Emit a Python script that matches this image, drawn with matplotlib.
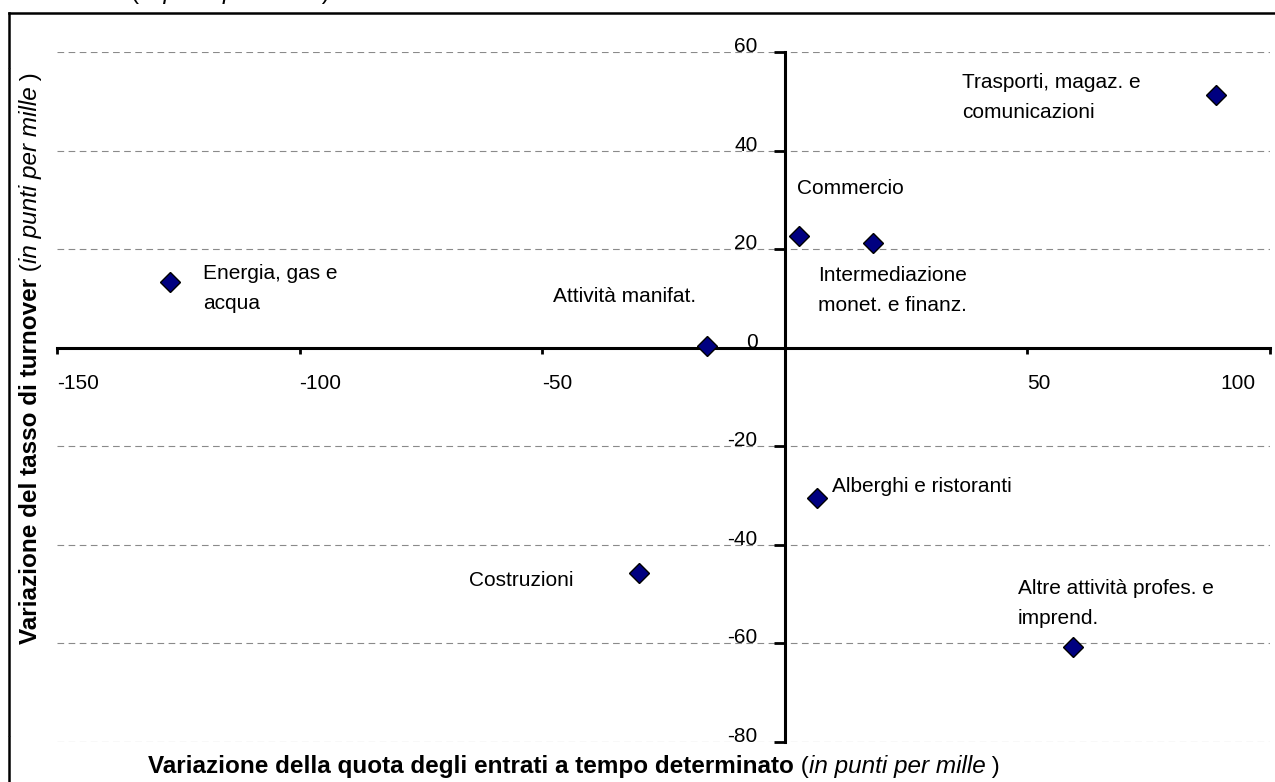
import matplotlib
matplotlib.use('Agg')
import matplotlib.pyplot as plt
from matplotlib.lines import Line2D
from matplotlib.transforms import ScaledTranslation

plt.rcParams['font.family'] = 'Liberation Sans'
plt.rcParams['axes.unicode_minus'] = False

# variazioni per settore (in punti per mille)
settori = ['Energia, gas e\nacqua', 'Attività manifat.', 'Commercio',
           'Intermediazione\nmonet. e finanz.', 'Trasporti, magaz. e\ncomunicazioni',
           'Alberghi e ristoranti', 'Costruzioni', 'Altre attività profes. e\nimprend.']
var_tempo_det = [-126.7, -16.0, 2.9, 18.2, 88.9, 6.6, -30.0, 59.4]
var_turnover = [13.4, 0.4, 22.6, 21.3, 51.2, -30.5, -45.7, -60.8]
x_ticks = [-150, -100, -50, 50, 100]
y_ticks = [60, 40, 20, 0, -20, -40, -60, -80]

# label position relative to its marker, in pixels
label_offsets = [(33, -7), (-154, 49), (-2, 48), (-55, -48), (-254, -2),
                 (15, 12), (-170, -8), (-55, 44)]

W, H = 1275, 782
FS = 15        # tick labels and point labels
FS_LAB = 17.5  # axis titles

fig = plt.figure(figsize=(W / 100, H / 100), dpi=100)
ax = fig.add_axes([57 / W, 40 / H, 1213 / W, 690 / H])

ax.set_xlim(-150, 100)
ax.set_ylim(-80, 60)
for s in ['top', 'right']:
    ax.spines[s].set_visible(False)
ax.spines['left'].set_position(('data', 0))
ax.spines['bottom'].set_position(('data', 0))
ax.spines['left'].set_linewidth(2.2)
ax.spines['bottom'].set_linewidth(2.2)

ax.set_xticks(x_ticks)
ax.set_xticklabels([str(v) for v in x_ticks])
ax.set_yticks(y_ticks)
ax.set_yticklabels([str(v) for v in y_ticks])
ax.tick_params(axis='x', direction='out', length=4, width=2, pad=15, labelsize=FS)
ax.tick_params(axis='y', direction='out', length=8, width=2, pad=11.5, labelsize=FS)

for lab in ax.get_xticklabels():
    lab.set_ha('left')
last = ax.get_xticklabels()[-1]
last.set_ha('right')
last.set_transform(last.get_transform() + ScaledTranslation(-0.14, 0, fig.dpi_scale_trans))
for lab in ax.get_yticklabels():
    lab.set_va('baseline')

ax.grid(axis='y', linestyle=(0, (6, 4)), color='#8a8a8a', lw=0.8)
ax.set_axisbelow(True)

ax.plot(var_tempo_det, var_turnover, 'D', ms=10.5, mfc='#000080', mec='black',
        mew=1, zorder=5, clip_on=False)

for name, xv, yv, off in zip(settori, var_tempo_det, var_turnover, label_offsets):
    ax.annotate(name, (xv, yv), xytext=off, textcoords='offset pixels',
                ha='left', va='center', fontsize=FS, linespacing=1.75)


def rich_text(x, y, parts, size, rotation=0, center=False):
    # lay out text pieces one after another, x/y in pixels from bottom-left
    r = fig.canvas.get_renderer()
    texts = []
    for txt, kw in parts:
        t = fig.text(x / W, y / H, txt, fontsize=size, ha='left', va='baseline',
                     rotation=rotation, rotation_mode='anchor', **kw)
        bb = t.get_window_extent(r)
        texts.append(t)
        if rotation == 90:
            y += bb.height
        else:
            x += bb.width
    if center:
        # shift the whole run so that its middle lands on the given point
        if rotation == 90:
            total = y - texts[0].get_position()[1] * H
            for t in texts:
                px, py = t.get_position()
                t.set_position((px, py - total / 2 / H))
        else:
            total = x - texts[0].get_position()[0] * W
            for t in texts:
                px, py = t.get_position()
                t.set_position((px - total / 2 / W, py))


label_parts = [(' (', {}), ('in punti per mille', {'style': 'italic'}), (' )', {})]
rich_text(148, 782 - 773, [('Variazione della quota degli entrati a tempo determinato',
                             {'weight': 'bold'})] + label_parts, FS_LAB)
rich_text(37, 782 - 358, [('Variazione del tasso di turnover', {'weight': 'bold'})] + label_parts,
          FS_LAB, rotation=90, center=True)
# remnant of the title cut by the page edge (only descenders show)
rich_text(130, 782 + 1, [('(', {}), ('in punti per mille', {'style': 'italic'}), (' )', {})],
          FS_LAB)

# outer frame (partly cut)
lw = 1.8
fig.add_artist(Line2D([9 / W, 1], [1 - 13 / H, 1 - 13 / H], transform=fig.transFigure,
                      color='black', lw=lw))
fig.add_artist(Line2D([9 / W, 9 / W], [1 - 13 / H, 1 - 67 / H], transform=fig.transFigure,
                      color='black', lw=lw))
fig.add_artist(Line2D([9 / W, 9 / W], [1 - 69 / H, 1 - 735 / H], transform=fig.transFigure,
                      color='black', lw=lw))
fig.add_artist(Line2D([9 / W, 9 / W], [1 - 737 / H, 0], transform=fig.transFigure,
                      color='black', lw=lw))

fig.savefig('out.png', dpi=100)
